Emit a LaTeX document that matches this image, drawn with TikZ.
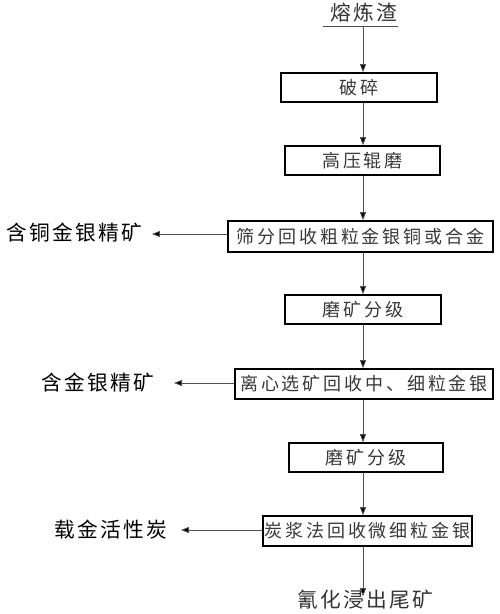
\documentclass[tikz,border=0pt]{standalone}
\usepackage{fontspec}
\newfontfamily\boxfont[LetterSpace=16]{Noto Sans CJK SC}
\newfontfamily\sidefont[LetterSpace=11]{Noto Sans CJK SC}
\usetikzlibrary{arrows.meta}
\definecolor{txtgray}{HTML}{383838}
\definecolor{linegray}{HTML}{505050}
\tikzset{
  stepbox/.style={draw=black, line width=1.6pt, inner sep=0pt, minimum height=29pt,
    font=\boxfont\fontsize{18pt}{20pt}\selectfont, text=txtgray},
  sidelabel/.style={inner sep=0pt, font=\sidefont\fontsize{20.7pt}{23pt}\selectfont, text=black},
  flow/.style={draw=linegray, line width=0.8pt, -{Triangle[length=8pt,width=6pt,fill=black]}},
}
\begin{document}
\begin{tikzpicture}[x=1pt,y=-1pt]
\useasboundingbox (0,0) rectangle (500,614);
\coordinate (sp) at (363,0);
\node[sidelabel, text=black!80] (top) at (363.5,13) {熔炼渣};
\coordinate (ulA) at (323,26);
\coordinate (ulB) at (398,26);
\draw[line width=0.9pt, black!70] (ulA) -- (ulB);
\node[stepbox, minimum width=156pt] (b1) at (359,87.5) {破碎};
\node[stepbox, minimum width=155pt] (b2) at (362.5,160.5) {高压辊磨};
\node[stepbox, minimum width=265pt, minimum height=31pt] (b3) at (360.5,236.5) {筛分回收粗粒金银铜或合金};
\node[stepbox, minimum width=156pt] (b4) at (363,309.5) {磨矿分级};
\node[stepbox, minimum width=258pt, minimum height=30pt] (b5) at (364,384) {离心选矿回收中、细粒金银};
\node[stepbox, minimum width=154pt] (b6) at (366,457.5) {磨矿分级};
\node[stepbox, minimum width=209pt, minimum height=30pt] (b7) at (367.5,531) {炭浆法回收微细粒金银};
\node[sidelabel] (l1) at (74,233) {含铜金银精矿};
\node[sidelabel] (l2) at (97.5,383) {含金银精矿};
\node[sidelabel] (l3) at (110.5,530) {载金活性炭};
\node[sidelabel, text=black!80] (bot) at (365,600) {氰化浸出尾矿};
\draw[flow] (ulA -| sp) -- (b1.north -| sp);
\draw[flow] (b1.south -| sp) -- (b2.north -| sp);
\draw[flow] (b2.south -| sp) -- (b3.north -| sp);
\draw[flow] (b3.south -| sp) -- (b4.north -| sp);
\draw[flow] (b4.south -| sp) -- (b5.north -| sp);
\draw[flow] (b5.south -| sp) -- (b6.north -| sp);
\draw[flow] (b6.south -| sp) -- (b7.north -| sp);
\draw[flow] (b7.south -| sp) -- ([yshift=-6pt]bot.north -| sp);
\draw[flow] (b3.west |- 0,234) -- ([xshift=10pt]l1.east |- 0,234);
\draw[flow] (b5.west |- 0,383) -- ([xshift=20pt]l2.east |- 0,383);
\draw[flow] (b7.west |- 0,530) -- ([xshift=14pt]l3.east |- 0,530);
\end{tikzpicture}
\end{document}
